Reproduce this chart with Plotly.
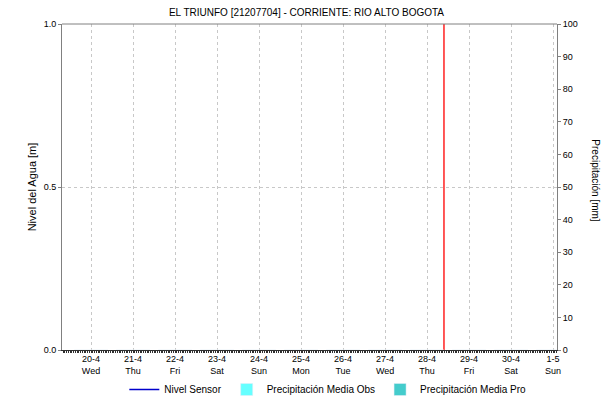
import plotly.graph_objects as go

# ---------------------------------------------------------------------------
# Data
# ---------------------------------------------------------------------------
TITLE = "EL TRIUNFO [21207704] - CORRIENTE: RIO ALTO BOGOTA"

day_dates = ["2022-04-20", "2022-04-21", "2022-04-22", "2022-04-23",
             "2022-04-24", "2022-04-25", "2022-04-26", "2022-04-27",
             "2022-04-28", "2022-04-29", "2022-04-30", "2022-05-01"]
day_labels = ["20-4<br>Wed", "21-4<br>Thu", "22-4<br>Fri", "23-4<br>Sat",
              "24-4<br>Sun", "25-4<br>Mon", "26-4<br>Tue", "27-4<br>Wed",
              "28-4<br>Thu", "29-4<br>Fri", "30-4<br>Sat", "1-5<br>Sun"]

# no sensor readings / rain in the window
nivel_y = [None] * len(day_dates)
precip_obs = [0] * len(day_dates)
precip_pro = [0] * len(day_dates)

now_marker = ["2022-04-28 09:40", "2022-04-28 09:40"]
now_marker_y = [0, 1]

x_range = ["2022-04-19 07:25", "2022-05-01 02:15"]
nivel_range = [0, 1]
precip_range = [0, 100]

# ---------------------------------------------------------------------------
# Figure
# ---------------------------------------------------------------------------
FONT = "Liberation Sans, Arial, sans-serif"
GRID = "#c8c8c8"
AXIS = "#808080"

fig = go.Figure()

fig.add_trace(go.Scatter(
    x=day_dates, y=nivel_y, mode="lines", name="Nivel Sensor",
    line=dict(color="#0000cc", width=1.5),
))
fig.add_trace(go.Bar(
    x=day_dates, y=precip_obs, name="Precipitación Media Obs",
    marker_color="#66ffff", yaxis="y2",
))
fig.add_trace(go.Bar(
    x=day_dates, y=precip_pro, name="Precipitación Media Pro",
    marker_color="#44cccc", yaxis="y2",
))
fig.add_trace(go.Scatter(
    x=now_marker, y=now_marker_y, mode="lines", showlegend=False,
    line=dict(color="#ff2020", width=1.5), hoverinfo="skip",
))

fig.update_layout(
    width=613, height=404,
    paper_bgcolor="white", plot_bgcolor="white",
    font=dict(family=FONT, size=9, color="#000000"),
    title=dict(text=TITLE, x=0.5, xanchor="center",
               yref="container", y=1 - 12 / 404, yanchor="middle",
               font=dict(size=10)),
    margin=dict(l=62, r=56, t=24, b=54, autoexpand=False),
    barmode="group",
    xaxis=dict(
        type="date", range=x_range, automargin=False,
        tickvals=day_dates, ticktext=day_labels, tickangle=0,
        showgrid=True, gridcolor=GRID, griddash="dot", gridwidth=1,
        showline=True, linecolor="#303030", linewidth=1,
        ticks="", zeroline=False,
        minor=dict(tickmode="linear", tick0="2022-04-19",
                   dtick=3600 * 1000, ticks="outside", ticklen=2,
                   tickcolor="#303030", tickwidth=1, showgrid=False),
    ),
    yaxis=dict(
        range=nivel_range, tickvals=[0, 0.5, 1.0], tickformat=".1f",
        automargin=False,
        title=dict(text="Nivel del Agua [m]", standoff=4),
        showgrid=True, gridcolor=GRID, griddash="dot",
        showline=True, linecolor=AXIS, ticks="outside", ticklen=3,
        tickcolor=AXIS, zeroline=False,
    ),
    yaxis2=dict(
        range=precip_range, dtick=10, overlaying="y", side="right",
        automargin=False,
        showgrid=False, showline=True, linecolor=AXIS,
        ticks="outside", ticklen=3, tickcolor=AXIS, zeroline=False,
    ),
    legend=dict(orientation="h", x=0.537, xanchor="center",
                yref="container", y=0.0, yanchor="bottom",
                font=dict(size=10), itemwidth=30,
                bgcolor="rgba(0,0,0,0)"),
    showlegend=True,
)

# top border of the plot frame
fig.add_shape(type="line", xref="paper", yref="paper", x0=0, x1=1, y0=1, y1=1,
              line=dict(color=AXIS, width=1))

# right-hand axis title reads top-to-bottom
fig.add_annotation(text="Precipitación [mm]", xref="paper", yref="paper",
                   x=1.077, xanchor="center", y=0.52, textangle=90,
                   showarrow=False, font=dict(size=10))

# drop the page's default body margin so the figure sits at (0, 0)
fig.write_html("out.html",
               config={"displayModeBar": False},
               post_script="document.body.style.margin='0';")
